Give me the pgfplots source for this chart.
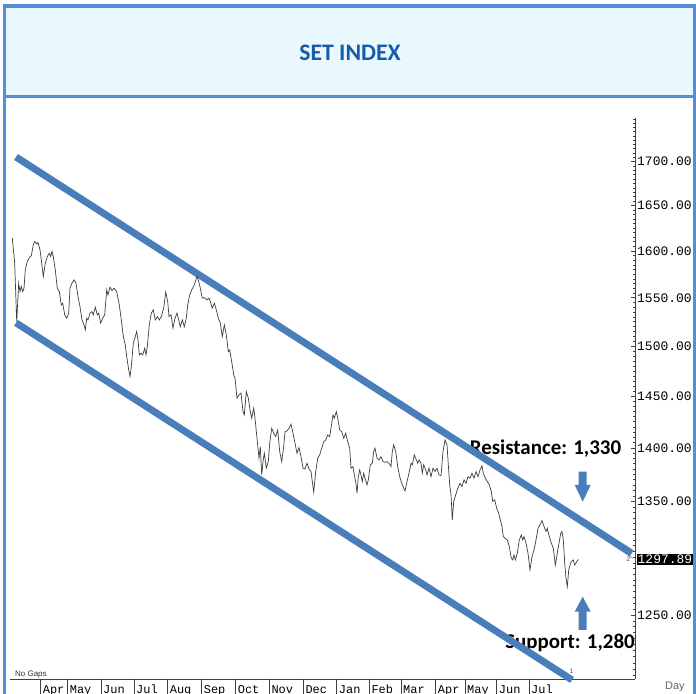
\documentclass[border=0pt]{standalone}
\usepackage{pgfplots}
\pgfplotsset{compat=1.18}
\usepackage{fontspec}
\setmainfont{Carlito}
\setsansfont{Liberation Sans}
\setmonofont{Liberation Mono}
\definecolor{frameblue}{RGB}{85,142,213}
\definecolor{titlebg}{RGB}{233,248,252}
\definecolor{titleblue}{RGB}{22,92,170}
\definecolor{trendblue}{RGB}{74,126,187}
\definecolor{pricegray}{RGB}{60,60,60}

\begin{document}
\begin{tikzpicture}[x=1bp,y=1bp]
\clip (0,0) rectangle (696,694);
\fill[white] (0,0) rectangle (696,694);
% title box and frame
\fill[titlebg] (4.5,597.5) rectangle (694.3,688);
\draw[frameblue, line width=3.3bp] (4.5,0) -- (4.5,688) -- (694.3,688) -- (694.3,0);
\draw[frameblue, line width=3.3bp] (4.5,597.5) -- (694.3,597.5);
\node[anchor=base, inner sep=0pt, text=titleblue, font=\bfseries\fontsize{23.8}{26}\selectfont] at (350,633.3) {SET INDEX};

% annotations (under the trend lines)
\node[anchor=base, inner sep=0pt, font=\bfseries\fontsize{21}{24}\selectfont] at (545.5,239.7) {Resistance: 1,330};
\node[anchor=base, inner sep=0pt, font=\bfseries\fontsize{21}{24}\selectfont] at (570,45) {Support: 1,280};
\fill[trendblue] (578.7,222.3) -- (586.7,222.3) -- (586.7,209) -- (590.7,209) -- (582.7,192.3) -- (574.7,209) -- (578.7,209) -- cycle;
\fill[trendblue] (578.7,64) -- (586.7,64) -- (586.7,82.3) -- (590.7,82.3) -- (582.7,97.3) -- (574.7,82.3) -- (578.7,82.3) -- cycle;
\node[anchor=base west, inner sep=0pt, font=\sffamily\fontsize{8}{9}\selectfont, text=black!80] at (15,17) {No Gaps};
\node[anchor=base west, inner sep=0pt, font=\sffamily\fontsize{11}{12}\selectfont, text=black!60] at (665,4) {Day};

\begin{axis}[
    at={(10,10.2)}, anchor=south west,
    width=625bp, height=561bp, scale only axis,
    xmin=10, xmax=635,
    % price scale is logarithmic
    y coord trafo/.code={\pgfmathparse{ln(#1)}},
    y coord inv trafo/.code={\pgfmathparse{exp(#1)}},
    ymin=1196.9, ymax=1751.1,
    axis x line*=bottom, axis y line*=right,
    axis line style={black!75, line width=0.8bp},
    xtick=\empty,
    ytick={1250,1350,1400,1450,1500,1550,1600,1650,1700},
    yticklabels={1250.00,1350.00,1400.00,1450.00,1500.00,1550.00,1600.00,1650.00,1700.00},
    minor ytick={1200,1205,1210,1215,1220,1225,1230,1235,1240,1245,1255,1260,1265,1270,1275,1280,1285,1290,1295,1300,1305,1310,1315,1320,1325,1330,1335,1340,1345,1355,1360,1365,1370,1375,1380,1385,1390,1395,1405,1410,1415,1420,1425,1430,1435,1440,1445,1455,1460,1465,1470,1475,1480,1485,1490,1495,1505,1510,1515,1520,1525,1530,1535,1540,1545,1555,1560,1565,1570,1575,1580,1585,1590,1595,1605,1610,1615,1620,1625,1630,1635,1640,1645,1655,1660,1665,1670,1675,1680,1685,1690,1695,1705,1710,1715,1720,1725,1730,1735,1740,1745,1750},
    tick align=inside,
    major tick length=4bp, minor tick length=2.5bp,
    tick style={black!75, line width=0.6bp},
    yticklabel style={font=\ttfamily\fontsize{13}{14}\selectfont, anchor=west, inner sep=0pt, xshift=2bp},
    clip=false,
]
% chart's own trend line, mostly hidden under the blue one
\addplot[gray!70, line width=0.8bp] coordinates {(400,1441.4) (633,1298.8)};
% channel
\addplot[trendblue, line width=7bp] coordinates {(16,1705.4) (631.7,1303.4)};
\addplot[trendblue, line width=7bp] coordinates {(16,1523.8) (572,1196.1)};
% SET index, daily close
\addplot[pricegray, line width=0.7bp] coordinates {
(12.3,1613.9) (14.7,1586.8) (16.7,1525.1) (18.7,1565.4) (20,1556.5) (21.3,1561.8) (22.7,1556.5) (24,1560.1) (25.3,1579.6) (27.3,1588.5) (30,1593.9) (31.3,1594.6) (33.3,1606.6) (34.7,1610.3) (36.7,1607.7) (38,1609.1) (40,1601.2) (41.3,1590.3) (43.3,1572.4) (45.3,1586.8) (47.3,1593.9) (49.3,1597.5) (50.7,1593.9) (52,1599.4) (53.3,1593.9) (55.3,1579.6) (57.3,1560.1) (59.3,1556.5) (61.3,1542.5) (62.7,1544.3) (64.7,1532.1) (66.7,1528.7) (68.7,1533.9) (70,1560.1) (72,1565.4) (74,1568.9) (76,1565.4) (78,1551.2) (80,1540.7) (82,1526.9) (84,1521.7) (85.3,1516.6) (86.7,1528.7) (88,1526.9) (90,1533.9) (92,1535.5) (93.3,1532.1) (95.3,1540.1) (97.3,1532.1) (98.7,1533.9) (100.7,1523.5) (102.7,1528.7) (104.7,1532.1) (106.7,1558.3) (108,1553.0) (110,1561.2) (112,1557.6) (114,1560.1) (116.7,1556.5) (119.3,1542.5) (121.3,1526.9) (123.3,1509.8) (125.3,1501.2) (126.7,1489.4) (128.7,1476.0) (130,1469.3) (131.3,1479.3) (133.3,1502.9) (135.3,1509.8) (136.7,1514.9) (138,1506.3) (139.3,1491.1) (140.7,1492.8) (142.7,1491.1) (144.7,1497.8) (146,1491.1) (147.3,1499.5) (149.3,1521.7) (151.3,1533.9) (153.3,1537.3) (155.3,1526.9) (157.3,1530.4) (159.3,1526.9) (161.3,1530.4)
(163.7,1539.1) (165.7,1555.9) (167.7,1546.0) (169,1530.4) (171,1532.1) (173,1518.4) (175,1528.7) (177,1533.9) (178.3,1528.7) (180.3,1519.9) (182.3,1526.9) (184.3,1519.9) (186.3,1528.7) (187.7,1542.5) (189.7,1553.0) (191.7,1558.3) (194.3,1563.6) (197,1572.4) (198.3,1568.9) (200.3,1560.1) (202.3,1549.6) (204.3,1550.2) (207,1547.8) (209,1549.6) (210.3,1546.0) (212.3,1539.1) (214.3,1544.3) (216.3,1537.3) (218.3,1528.7) (220.3,1523.5) (222.3,1509.8) (224.3,1521.7) (226.3,1511.5) (228.3,1494.4) (229.7,1496.1) (231.7,1484.3) (233.7,1471.0) (235,1467.7) (237,1448.0) (239,1451.2) (241,1452.9) (243,1434.9) (244.3,1431.6) (246.3,1454.4) (248.3,1448.0) (250.3,1434.9) (251.7,1428.4) (253.7,1438.1) (255,1428.4) (257,1409.1) (259,1390.2) (260.3,1401.2) (261.7,1374.5) (263,1387.0) (264.3,1394.9) (266.3,1380.8) (268.3,1387.0) (269.7,1404.4) (271.7,1418.7) (273.7,1413.9) (275.7,1410.7) (277.7,1417.1) (279.7,1396.4) (281.7,1387.0) (283.7,1401.2) (285,1415.5) (287,1416.2) (289,1418.7) (291,1422.6) (293,1413.9) (295,1404.4) (297,1394.9) (299,1400.2) (301,1391.7) (303,1380.8) (305,1380.1) (307,1385.5) (309,1380.1)
(311,1377.6) (312.3,1368.3) (313.7,1358.5) (315.7,1377.6) (317.7,1390.2) (319.7,1393.3) (321.7,1399.6) (323.7,1405.9) (325.7,1407.5) (327.7,1412.3) (329.7,1410.7) (331,1418.7) (333,1431.6) (334.3,1428.4) (336.3,1434.9) (337.7,1428.4) (339.7,1417.1) (341.7,1415.5) (343.7,1409.1) (345.7,1413.9) (347.7,1405.9) (349.7,1399.6) (351,1380.8) (353,1382.3) (354.3,1374.5) (355.7,1368.3) (357,1357.6) (358.3,1372.9) (359.7,1379.2) (361,1374.5) (362.3,1368.3) (363.7,1376.1) (365,1371.5) (367,1365.2) (368.3,1369.9) (370.3,1383.9) (372.3,1385.5) (373.7,1396.4) (375,1399.6) (377,1390.2) (379,1388.6) (381,1391.7) (383,1387.0) (385,1386.4) (387,1387.0) (389,1385.5) (391,1382.3) (392.3,1396.4) (393.7,1402.8) (395.7,1396.4) (397.7,1382.3) (399.7,1372.9) (401.7,1366.8) (403.7,1362.2) (405,1359.7) (407,1368.3) (409,1376.1) (411,1385.5) (412.3,1383.9) (414.3,1393.3) (416.3,1388.6) (417.7,1385.5) (419,1388.6) (421,1385.5) (422.3,1376.1) (423.7,1383.9) (425.7,1379.2) (427,1374.5) (429,1380.8) (431,1372.9) (433,1380.8) (435,1377.6) (437,1380.8) (439,1374.5) (441,1373.9) (443,1396.4) (445,1407.5) (447,1402.8) (448.3,1383.9) (449.7,1365.2) (451,1356.0) (452.3,1333.2) (453.7,1349.9) (455.7,1356.0) (457.7,1361.9)
(460,1366.7) (462,1363.7) (464,1369.9) (466,1366.7) (468,1372.9) (470,1371.5) (472,1376.1) (474,1371.5) (476,1377.6) (478,1372.9) (480,1379.2) (482,1383.0) (483.3,1376.1) (485.3,1371.5) (487.3,1368.3) (489.3,1365.2) (491.3,1359.1) (492.7,1349.9) (494.7,1351.4) (496.7,1343.8) (498.7,1339.2) (500.7,1331.7) (502,1327.2) (503.3,1318.2) (505.3,1316.7) (507.3,1315.2) (509.3,1309.3) (511.3,1299.0) (512.7,1297.5) (514,1301.9) (515.3,1297.5) (517.3,1303.4) (519.3,1315.2) (521.3,1319.7) (522.7,1315.2) (524,1318.2) (526,1312.3) (528,1303.4) (530,1288.7) (532,1300.4) (534,1306.3) (536,1315.2) (538,1325.7) (540,1328.7) (542,1332.6) (544,1327.2) (546,1322.7) (547.3,1325.7) (549.3,1318.2) (551.3,1312.3) (553.3,1307.8) (555.3,1293.1) (556.7,1300.4) (558.7,1310.8) (560.7,1321.2) (562,1322.7) (563.3,1315.2) (564.7,1294.6) (566,1281.5) (567.3,1274.2) (568.7,1288.7) (570,1293.1) (571.3,1296.0) (573.3,1297.5) (574.7,1293.1) (576.7,1296.0) (578.3,1297.89)
};
\node[anchor=west, xshift=1.5bp, inner sep=1bp, fill=black, text=white, font=\ttfamily\fontsize{13}{14}\selectfont] at (axis cs:635,1297.89) {1297.89};
\node[inner sep=0pt, font=\sffamily\fontsize{6.5}{7}\selectfont, text=black!70] at (axis cs:628.5,1298.5) {2};
\node[inner sep=0pt, font=\sffamily\fontsize{6.5}{7}\selectfont, text=black!70] at (axis cs:571.7,1202.8) {1};
\end{axis}

% month separators and labels along the time axis (cut by the lower edge, as in the source)
\begin{scope}[overlay]
\foreach \x/\m in {40.7/Apr,67.7/May,101/Jun,134/Jul,167.7/Aug,201.7/Sep,235.7/Oct,269.3/Nov,303.3/Dec,336.7/Jan,369.3/Feb,401/Mar,435.7/Apr,465/May,496.7/Jun,529/Jul} {
  \draw[black!75, line width=0.6bp] (\x,15) -- (\x,0);
  \node[anchor=north west, inner sep=0pt, font=\ttfamily\fontsize{12}{13}\selectfont] at (\x+2,9) {\m};
}
\end{scope}
\end{tikzpicture}
\end{document}
